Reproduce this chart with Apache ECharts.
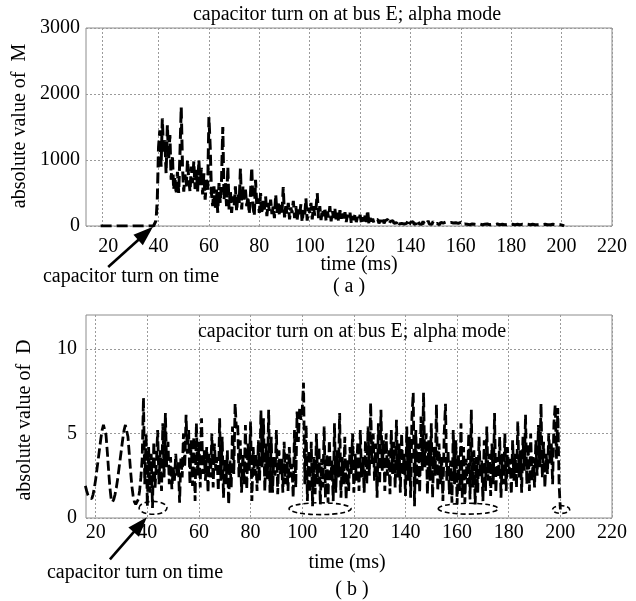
<!DOCTYPE html>
<html><head><meta charset="utf-8">
<script src="https://cdn.jsdelivr.net/npm/echarts@6/dist/echarts.min.js"></script>
<style>html,body{margin:0;padding:0;background:#fff}#c{width:636px;height:601px}</style>
</head><body><div id="c"></div>
<script>
// ---------- data ----------
const titleText = 'capacitor turn on at bus E; alpha mode';
const xLabelValues = [20, 40, 60, 80, 100, 120, 140, 160, 180, 200, 220];
const topGridValues = [17.5, 40, 60, 80, 100, 120, 140, 160, 180, 200, 220];
const topYTicks = [0, 1000, 2000, 3000];
const bottomYTicks = [0, 5, 10];

// panel (a): |M|
const mLeadTimes = [17];
const mLeadValues = [0];
const mStart = 38, mStep = 0.5;
const mValues = [
  0, 20, 80, 400, 1200, 1450, 900, 1630, 1100, 1300,
  800, 1530, 1000, 1380, 700, 1070, 550, 750, 480, 820,
  500, 1100, 1800, 900, 520, 780, 600, 1000, 700, 520,
  900, 650, 980, 560, 850, 520, 1000, 620, 880, 480,
  800, 400, 700, 550, 1650, 1200, 500, 300, 600, 250,
  550, 200, 650, 350, 700, 1500, 400, 650, 300, 900,
  250, 550, 200, 450, 300, 600, 220, 500, 350, 870,
  250, 600, 400, 550, 300, 450, 180, 500, 890, 300,
  150, 700, 300, 420, 200, 500, 180, 380, 250, 450,
  150, 350, 230, 400, 180, 300, 120, 480, 200, 380,
  150, 320, 200, 590, 130, 300, 180, 350, 100, 280,
  200, 380, 120, 300, 90, 250, 170, 330, 60, 240,
  150, 420, 80, 280, 200, 350, 100, 300, 160, 260,
  500, 120, 300, 90, 250, 150, 280, 80, 220, 130,
  300, 70, 230, 120, 260, 90, 200, 60, 240, 110,
  190, 80, 210, 60, 170, 120, 200, 50, 150, 90,
  180, 60, 140, 80, 170, 50, 130, 70, 160, 60,
  240, 40, 120, 70, 110, 50, 90, 60, 100, 40,
  90, 50, 110, 40, 80, 60, 100, 30, 70, 50,
  80, 40, 70, 50, 90, 30, 60, 40, 70, 30,
  60, 40, 80, 20, 55, 35, 65, 25, 50, 40,
  90, 30, 60, 25, 70, 35, 55, 20, 80, 30,
  60, 25, 70, 30, 50, 40, 65, 20, 55, 35,
  45, 25, 60, 30, 50, 20, 55, 30, 45, 25,
  50, 20, 40, 30, 55, 20, 45, 30, 50, 25,
  40, 20, 50, 30, 45, 25, 40, 20, 45, 30,
  40, 20, 45, 25, 40, 30, 35, 20, 45, 25,
  40, 20, 35, 30, 40, 20, 45, 25, 35, 20,
  40, 25, 35, 20, 40, 25, 30, 20, 35, 25,
  40, 20, 30, 25, 35, 20, 30, 25, 35, 20,
  30, 25, 35, 20, 30, 20, 35, 25, 30, 20,
  35, 25, 30, 20, 45, 20, 30, 25, 40, 20,
  30, 25, 35, 20, 30, 10, 0
];

// panel (b): |D|
const dStart = 16, dStep = 0.5;
const dValues = [
  1.9, 1.6, 1.35, 1.2, 1.1, 1.15, 1.4, 1.8, 2.3, 2.9,
  3.5, 4.1, 4.7, 5.2, 5.5, 5.5, 4.9, 3.9, 2.8, 1.8,
  1.1, 0.95, 1.1, 1.4, 1.8, 2.3, 2.9, 3.5, 4.1, 4.7,
  5.2, 5.5, 5.5, 4.8, 3.8, 2.8, 1.9, 1.3, 0.95, 0.8,
  0.85, 1.1, 1.6, 2.4,
  3.5, 7.1, 2.0, 5.0, 0.7, 4.2, 1.5, 3.8, 0.6, 4.5,
  1.8, 3.2, 5.2, 2.0, 4.0, 1.6, 5.6, 2.4, 6.2, 3.0,
  4.5, 2.0, 3.6, 1.7, 3.0, 2.2, 3.8, 2.5, 3.3, 0.9,
  3.6, 2.4, 5.0, 3.0, 6.1, 3.8, 5.2, 2.0, 4.6, 1.9,
  4.8, 1.0, 5.6, 2.5, 4.5, 1.8, 5.9, 2.6, 4.0, 2.2,
  4.2, 1.5, 3.8, 2.4, 5.0, 1.8, 4.4, 2.8, 3.6, 1.6,
  5.9, 2.2, 4.8, 1.2, 3.5, 2.0, 4.0, 0.8, 3.4, 1.8,
  5.4, 2.6, 6.75, 5.3, 5.6, 2.4, 4.6, 1.5, 3.8, 2.0,
  5.5, 1.7, 4.4, 2.8, 5.7, 1.0, 4.2, 2.5, 3.8, 1.6,
  4.6, 2.2, 6.35, 3.0, 5.9, 1.6, 4.4, 2.3, 6.4, 1.5,
  4.8, 1.5, 3.6, 2.5, 5.2, 1.4, 4.0, 2.6, 3.5, 1.5,
  4.5, 2.0, 3.8, 1.6, 4.2, 2.4, 3.2, 1.2, 5.2, 1.8,
  6.3, 4.5, 6.5, 5.8, 6.4, 8.0, 2.0, 5.5, 1.0, 4.0,
  1.5, 4.5, 0.7, 3.6, 1.4, 5.0, 2.0, 4.2, 0.8, 3.5,
  1.8, 5.4, 1.2, 3.8, 0.9, 4.6, 2.2, 3.4, 1.0, 5.6,
  1.5, 4.0, 2.4, 6.2, 1.2, 3.6, 2.0, 4.8, 1.1, 3.5,
  1.6, 4.2, 2.6, 5.0, 1.5, 3.8, 2.2, 4.5, 1.6, 5.2,
  2.4, 3.6, 1.5, 4.6, 2.0, 5.4, 2.5, 6.8, 3.2, 5.0,
  2.2, 4.4, 1.2, 5.6, 2.0, 6.4, 2.8, 4.6, 1.6, 5.0,
  2.5, 4.0, 1.4, 5.2, 2.6, 4.5, 1.8, 5.8, 2.4, 4.4,
  1.5, 5.0, 2.6, 3.8, 1.3, 5.4, 2.2, 4.8, 1.2, 6.0,
  7.4, 0.7, 5.2, 2.0, 4.4, 1.5, 6.0, 2.8, 7.4, 3.0,
  5.0, 1.4, 4.6, 2.2, 5.6, 1.2, 4.2, 2.5, 6.7, 1.6,
  4.4, 2.0, 3.6, 1.0, 5.0, 6.75, 2.2, 4.0, 1.4, 3.4,
  0.9, 5.2, 2.0, 4.6, 0.8, 3.8, 1.6, 5.6, 1.2, 4.2,
  0.9, 3.5, 2.0, 5.0, 1.1, 6.4, 1.8, 4.0, 0.8, 3.6,
  1.5, 4.8, 2.4, 3.4, 1.0, 4.6, 1.6, 5.4, 2.2, 3.8,
  1.3, 4.4, 2.0, 6.2, 1.5, 3.6, 2.4, 4.8, 1.2, 3.8,
  2.0, 5.0, 1.6, 4.2, 2.6, 3.5, 1.4, 4.6, 2.2, 3.8,
  1.8, 5.7, 2.4, 4.0, 1.5, 4.8, 2.8, 6.1, 2.0, 4.4,
  1.6, 5.0, 2.2, 3.6, 1.8, 4.6, 2.5, 5.5, 3.0, 6.75,
  2.4, 4.5, 1.8, 3.8, 2.6, 5.0, 3.2, 4.4, 2.0, 5.6,
  6.7, 3.5, 6.5, 2.0, 0.5
];

// annotation anchors in data units
const arrowA = { tail: [20, -620], tip: [37.8, -10] };
const arrowB = { tail: [25.5, -2.45], tip: [39.8, 0.05] };
const ellipsesB = [
  { c: [42.2, 0.6], rx: 5.4, ry: 0.38 },
  { c: [106.9, 0.55], rx: 12, ry: 0.35 },
  { c: [164.3, 0.55], rx: 11.6, ry: 0.32 },
  { c: [200.3, 0.5], rx: 3.3, ry: 0.23 }
];

// ---------- build ----------
const FONT = '"Liberation Serif", "Times New Roman", serif';
const mData = mLeadTimes.map((t, i) => [t, mLeadValues[i]])
  .concat(mValues.map((v, i) => [mStart + i * mStep, v]));
const dData = dValues.map((v, i) => [dStart + i * dStep, v]);

const gridLine = { show: true, lineStyle: { color: '#9a9a9a', width: 1, type: [2, 2] } };
const labelBase = { fontFamily: FONT, fontSize: 20, color: '#000', formatter: v => String(v) };

const chart = echarts.init(document.getElementById('c'), null, { renderer: 'canvas' });
const option = {
  animation: false,
  backgroundColor: '#fff',
  grid: [
    { left: 86, top: 28, right: 24, height: 198, show: true, borderColor: '#8c8c8c', borderWidth: 1, containLabel: false },
    { left: 86, top: 315, right: 24, height: 203, show: true, borderColor: '#8c8c8c', borderWidth: 1, containLabel: false }
  ],
  xAxis: [
    { type: 'value', gridIndex: 0, min: 11.2, max: 220,
      axisLine: { show: false }, axisTick: { show: false, customValues: topGridValues },
      axisLabel: Object.assign({ customValues: xLabelValues, margin: 11 }, labelBase),
      splitLine: gridLine },
    { type: 'value', gridIndex: 1, min: 16.24, max: 220,
      axisLine: { show: false }, axisTick: { show: false, customValues: xLabelValues },
      axisLabel: Object.assign({ customValues: xLabelValues, margin: 5 }, labelBase),
      splitLine: gridLine }
  ],
  yAxis: [
    { type: 'value', gridIndex: 0, min: 0, max: 3000,
      axisLine: { show: false }, axisTick: { show: false, customValues: topYTicks },
      axisLabel: Object.assign({ customValues: topYTicks, margin: 6 }, labelBase),
      splitLine: gridLine },
    { type: 'value', gridIndex: 1, min: 0, max: 12,
      axisLine: { show: false }, axisTick: { show: false, customValues: bottomYTicks },
      axisLabel: Object.assign({ customValues: bottomYTicks, margin: 9 }, labelBase),
      splitLine: gridLine }
  ],
  series: [
    { type: 'line', xAxisIndex: 0, yAxisIndex: 0, data: mData, symbol: 'none', showSymbol: false,
      silent: true, clip: true, lineStyle: { color: '#000', width: 3, type: [11, 5] } },
    { type: 'line', xAxisIndex: 1, yAxisIndex: 1, data: dData, symbol: 'none', showSymbol: false,
      silent: true, clip: true, lineStyle: { color: '#000', width: 2.8, type: [10, 4] } }
  ]
};
chart.setOption(option);

function toPx(gi, p) { return chart.convertToPixel({ gridIndex: gi }, p); }
function arrowGraphics(gi, a) {
  const t0 = toPx(gi, a.tail), t1 = toPx(gi, a.tip);
  const dx = t1[0] - t0[0], dy = t1[1] - t0[1];
  const L = Math.hypot(dx, dy), ux = dx / L, uy = dy / L;
  const hl = 20, hw = 7;
  const bx = t1[0] - ux * hl, by = t1[1] - uy * hl;
  return [
    { type: 'line', shape: { x1: t0[0], y1: t0[1], x2: bx + ux * 2, y2: by + uy * 2 },
      style: { stroke: '#000', lineWidth: 2.6 }, z: 100 },
    { type: 'polygon', shape: { points: [[t1[0], t1[1]], [bx - uy * hw, by + ux * hw], [bx + uy * hw, by - ux * hw]] },
      style: { fill: '#000' }, z: 100 }
  ];
}
function text(x, y, s, extra) {
  return Object.assign({ type: 'text', x: x, y: y, z: 100,
    style: { text: s, font: '20px ' + FONT, fill: '#000', align: 'center', verticalAlign: 'middle' } }, extra || {});
}
const g = [];
g.push(text(347, 15, titleText));
g.push(text(352, 332, titleText));
g.push(text(20, 126, 'absolute value of  M', { rotation: Math.PI / 2 }));
g.push(text(25, 420, 'absolute value of  D', { rotation: Math.PI / 2 }));
g.push(text(359, 265, 'time (ms)'));
g.push(text(349, 287, '( a )'));
g.push(text(347, 563, 'time (ms)'));
g.push(text(352, 590, '( b )'));
g.push(text(131, 277, 'capacitor turn on time'));
g.push(text(135, 573, 'capacitor turn on time'));
arrowGraphics(0, arrowA).forEach(e => g.push(e));
arrowGraphics(1, arrowB).forEach(e => g.push(e));
ellipsesB.forEach(e => {
  const c = toPx(1, e.c), r = toPx(1, [e.c[0] + e.rx, e.c[1] + e.ry]);
  g.push({ type: 'ellipse', shape: { cx: c[0], cy: c[1], rx: Math.abs(r[0] - c[0]), ry: Math.abs(r[1] - c[1]) },
    style: { fill: 'none', stroke: '#000', lineWidth: 1.6, lineDash: [5, 3] }, z: 100 });
});
chart.setOption({ graphic: g });
</script>
</body></html>
